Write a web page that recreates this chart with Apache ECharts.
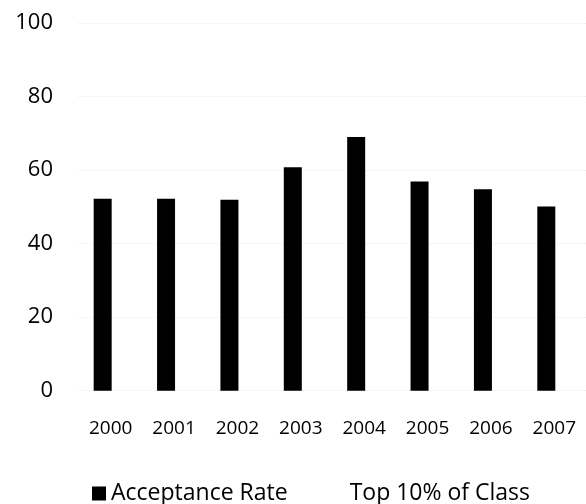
<!DOCTYPE html>
<html>
<head>
<meta charset="utf-8">
<script src="https://cdn.jsdelivr.net/npm/echarts@6/dist/echarts.min.js"></script>
<style>
  html, body { margin: 0; padding: 0; background: #fff; }
  #chart { width: 586px; height: 504px; }
</style>
</head>
<body>
<div id="chart"></div>
<script>
const years = ['2000', '2001', '2002', '2003', '2004', '2005', '2006', '2007'];
const acceptanceRate = [52.2, 52.2, 51.9, 60.8, 69.0, 56.9, 54.8, 50.1];
const topTenPct = ['-', '-', '-', '-', '-', '-', '-', '-'];
const yTicks = [0, 20, 40, 60, 80, 100];

const chart = echarts.init(document.getElementById('chart'));
const font = '"Open Sans", sans-serif';

chart.setOption({
  animation: false,
  backgroundColor: '#fff',
  grid: {
    left: 79,
    top: 23,
    width: 513.6,
    height: 367.7
  },
  legend: {
    left: 87,
    top: 477,
    icon: 'rect',
    itemWidth: 14,
    itemHeight: 14,
    itemGap: 43,
    textStyle: { fontFamily: font, fontSize: 23, color: '#000' },
    data: ['Acceptance Rate', 'Top 10% of Class']
  },
  xAxis: {
    type: 'category',
    data: years,
    axisLine: { show: false },
    axisTick: { show: false },
    axisLabel: { margin: 28, fontFamily: font, fontSize: 19, color: '#000' }
  },
  yAxis: {
    type: 'value',
    min: yTicks[0],
    max: yTicks[yTicks.length - 1],
    interval: 20,
    axisLine: { show: false },
    axisTick: { show: false },
    axisLabel: { margin: 26, fontFamily: font, fontSize: 22, color: '#000' },
    splitLine: { lineStyle: { color: '#ececec', type: 'dotted' } }
  },
  series: [
    {
      name: 'Acceptance Rate',
      type: 'bar',
      data: acceptanceRate,
      barWidth: 18,
      barGap: '-11%',
      itemStyle: { color: '#000' }
    },
    {
      name: 'Top 10% of Class',
      type: 'bar',
      data: topTenPct,
      barWidth: 18,
      itemStyle: { color: '#fff' }
    }
  ]
});
</script>
</body>
</html>
